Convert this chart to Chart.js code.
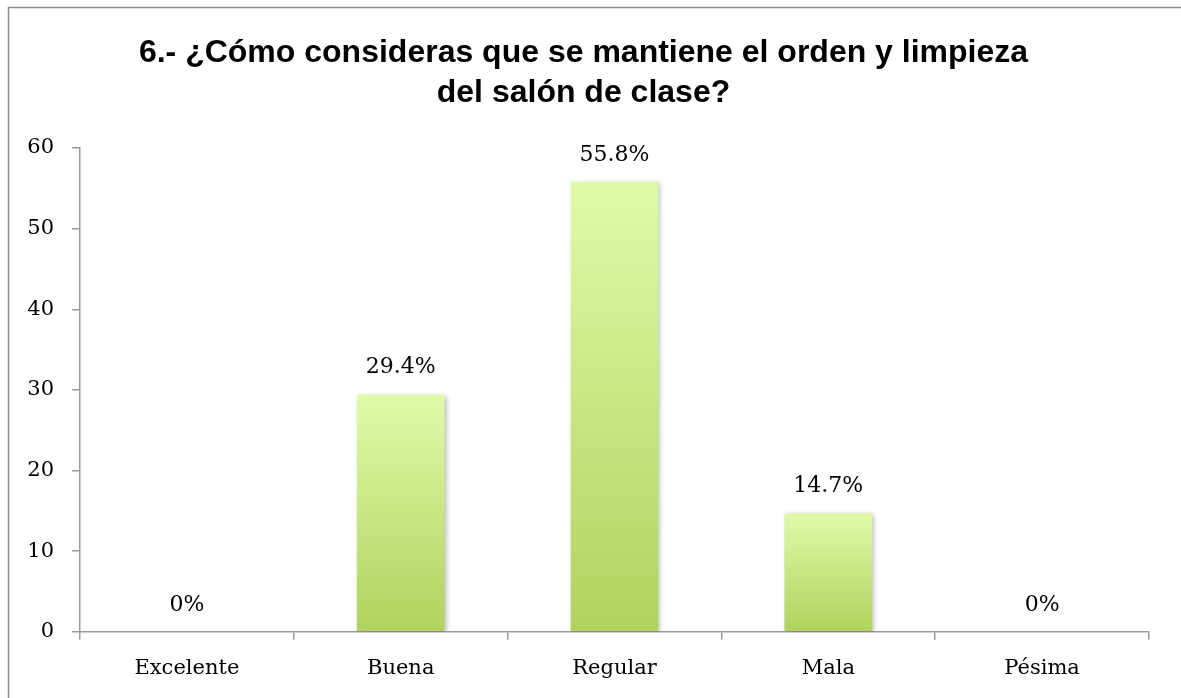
<!DOCTYPE html>
<html>
<head>
<meta charset="utf-8">
<script src="https://cdn.jsdelivr.net/npm/chart.js@4"></script>
<style>
  body { margin: 0; background: #fff; }
  canvas { display: block; }
</style>
</head>
<body>
<canvas id="myChart" width="1181" height="698"></canvas>
<script>
var categories = ["Excelente", "Buena", "Regular", "Mala", "Pésima"];
var values = [0, 29.4, 55.8, 14.7, 0];
var valueLabels = ["0%", "29.4%", "55.8%", "14.7%", "0%"];
var titleLines = ["6.- ¿Cómo consideras que se mantiene el orden y limpieza", "del salón de clase?"];

var axisGray = "#9a9a9a";
var serif = "'DejaVu Serif', serif";

// frame of the original picture (only left and top edges are visible)
var framePlugin = {
	id: "frame",
	beforeDraw: function (chart) {
		var c = chart.ctx;
		c.save();
		c.strokeStyle = "#8c8c8c";
		c.lineWidth = 1.5;
		c.beginPath();
		c.moveTo(8.5, chart.height);
		c.lineTo(8.5, 7.5);
		c.lineTo(chart.width, 7.5);
		c.stroke();
		c.restore();
	},
};

// soft shadow behind the bars
var shadowPlugin = {
	id: "barShadow",
	beforeDatasetsDraw: function (chart) {
		var c = chart.ctx;
		c.save();
		c.shadowColor = "rgba(0,0,0,0.28)";
		c.shadowBlur = 5;
		c.shadowOffsetX = 2;
		c.shadowOffsetY = 1;
	},
	afterDatasetsDraw: function (chart) {
		chart.ctx.restore();
	},
};

// percentage labels above each bar
var labelPlugin = {
	id: "valueLabels",
	afterDatasetsDraw: function (chart) {
		var c = chart.ctx;
		var meta = chart.getDatasetMeta(0);
		c.save();
		c.font = "22px " + serif;
		c.fillStyle = "#000";
		c.textAlign = "center";
		c.textBaseline = "middle";
		meta.data.forEach(function (bar, i) {
			c.fillText(valueLabels[i], bar.x, bar.y - 27);
		});
		c.restore();
	},
};

var ctx = document.getElementById("myChart").getContext("2d");
var myChart = new Chart(ctx, {
	type: "bar",
	data: {
		labels: categories,
		datasets: [
			{
				data: values,
				borderWidth: 0,
				barPercentage: 0.41,
				categoryPercentage: 1,
				backgroundColor: function (context) {
					var chart = context.chart;
					var y = chart.scales.y;
					if (!chart.chartArea || !y) return "#c8e488";
					var v = context.raw || 0;
					var top = y.getPixelForValue(v);
					var bottom = y.getPixelForValue(0);
					if (bottom - top < 1) return "#c8e488";
					var g = chart.ctx.createLinearGradient(0, top, 0, bottom);
					g.addColorStop(0, "#e1faa9");
					g.addColorStop(1, "#b1d25e");
					return g;
				},
			},
		],
	},
	options: {
		responsive: false,
		animation: false,
		layout: { padding: { top: 8, left: 18, right: 32, bottom: 1 } },
		plugins: {
			legend: { display: false },
			tooltip: { enabled: false },
			title: {
				display: true,
				text: titleLines,
				color: "#000",
				font: { family: "'Liberation Sans', Arial, sans-serif", size: 32, weight: "bold", lineHeight: 1.25 },
				padding: { top: 25, bottom: 35 },
			},
		},
		scales: {
			x: {
				grid: { display: true, drawOnChartArea: false, offset: true, color: axisGray, lineWidth: 1.5, tickLength: 8 },
				border: { display: true, color: axisGray, width: 1.5 },
				ticks: { color: "#000", font: { family: serif, size: 21 }, padding: 16 },
			},
			y: {
				min: 0,
				max: 60,
				afterFit: function (scale) { scale.width = 62; },
				grid: { display: true, drawOnChartArea: false, color: axisGray, lineWidth: 1.5, tickLength: 8 },
				border: { display: true, color: axisGray, width: 1.5 },
				ticks: { stepSize: 10, color: "#000", font: { family: serif, size: 21 }, padding: 18 },
			},
		},
	},
	plugins: [framePlugin, shadowPlugin, labelPlugin],
});
</script>
</body>
</html>
